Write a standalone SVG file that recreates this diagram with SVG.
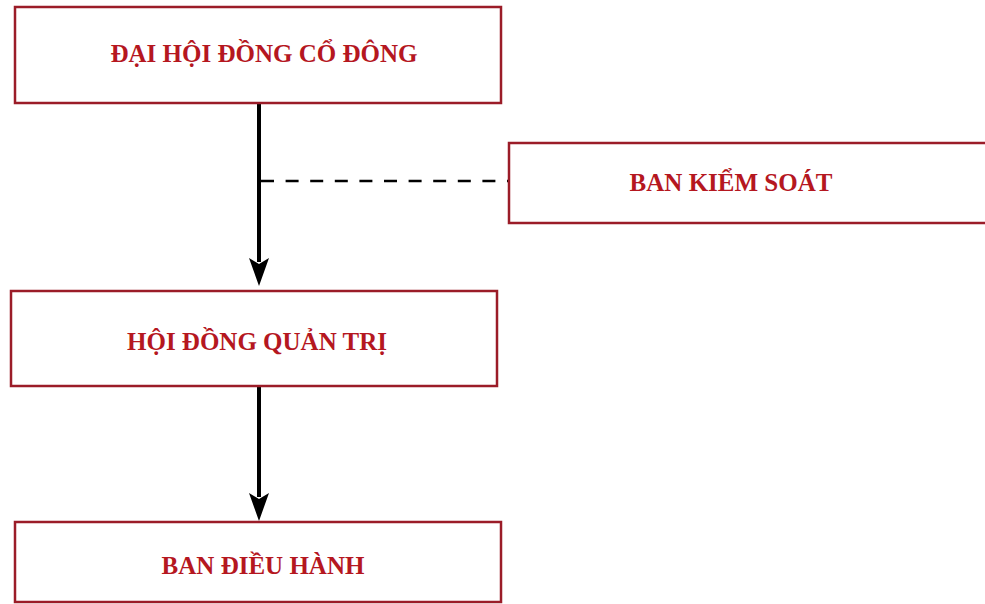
<svg xmlns="http://www.w3.org/2000/svg" width="985" height="604" viewBox="0 0 985 604">
<style>
.box{fill:#fff;stroke:#9b1c28;stroke-width:2.5}
.lbl{font-family:"Liberation Serif","Times New Roman",serif;font-weight:bold;font-size:25px;fill:#b5171f;text-anchor:middle}
.conn{stroke:#000;stroke-width:4;fill:none}
.dash{stroke:#000;stroke-width:2.5;fill:none;stroke-dasharray:13 11.6}
</style>
<rect width="985" height="604" fill="#fff"/>
<g id="connectors">
<path class="dash" d="M261,181 H508"/>
<path class="conn" d="M259,103 V262"/>
<path d="M249,258 L259,264 L269,258 L259,286 Z" fill="#000"/>
<path class="conn" d="M259,386 V497"/>
<path d="M249,493 L259,499 L269,493 L259,521 Z" fill="#000"/>
</g>
<g id="dai-hoi-dong-co-dong">
<rect class="box" x="15" y="7" width="486" height="96"/>
<text class="lbl" x="264" y="62">ĐẠI HỘI ĐỒNG CỔ ĐÔNG</text>
</g>
<g id="ban-kiem-soat">
<rect class="box" x="509" y="143" width="490" height="80"/>
<text class="lbl" x="731" y="190.5">BAN KIỂM SOÁT</text>
</g>
<g id="hoi-dong-quan-tri">
<rect class="box" x="11" y="291" width="486" height="95"/>
<text class="lbl" x="257" y="350">HỘI ĐỒNG QUẢN TRỊ</text>
</g>
<g id="ban-dieu-hanh">
<rect class="box" x="15" y="522" width="486" height="80"/>
<text class="lbl" x="263" y="574">BAN ĐIỀU HÀNH</text>
</g>
</svg>
